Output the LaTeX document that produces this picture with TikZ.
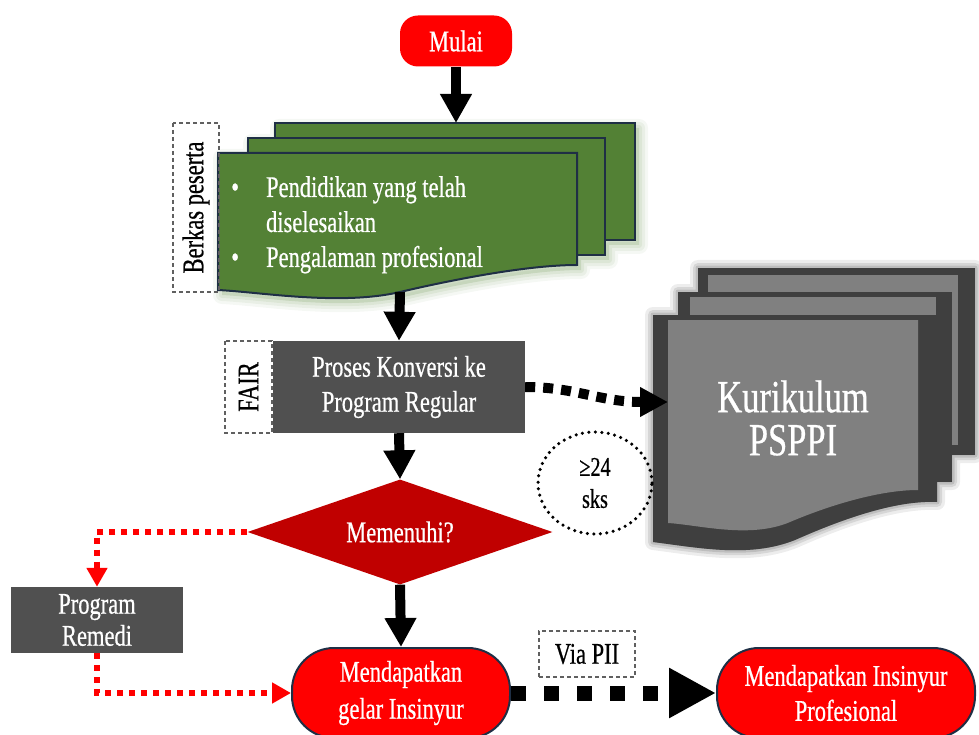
\documentclass[tikz,border=0pt]{standalone}
\usepackage{fontspec}
\setmainfont{Liberation Serif}[FakeStretch=0.75,FakeBold=0.6]
\usetikzlibrary{arrows.meta,shapes.geometric}

\definecolor{termred}{HTML}{FF0000}
\definecolor{decred}{HTML}{C00000}
\definecolor{procgray}{HTML}{505050}
\definecolor{docgreen}{HTML}{538135}
\definecolor{navyline}{HTML}{1F2F45}
\definecolor{sheetgray}{HTML}{808080}
\definecolor{sheetdark}{HTML}{3F3F3F}
\definecolor{tagline}{HTML}{606060}

\begin{document}
\begin{tikzpicture}[x=1pt,y=-1pt,
  lbl/.style={font=\fontsize{30}{35}\selectfont, text=white, align=center, inner sep=0pt},
  terminal/.style={lbl, fill=termred, draw=navyline, line width=2pt},
  process/.style={lbl, fill=procgray},
  decision/.style={lbl, diamond, aspect=3, fill=decred},
  tagbox/.style={font=\fontsize{30}{35}\selectfont, text=black, inner sep=0pt,
    draw=tagline, line width=1.3pt, dash pattern=on 4pt off 3pt},
  greensheet/.style={fill=docgreen, draw=navyline, line width=2pt, line join=miter},
  sheetout/.style={fill=sheetdark},
  sheetin/.style={fill=sheetgray},
  fatarrow/.style={draw=black, line width=10pt, -{Triangle[width=30pt,length=29pt]}},
  squarearrow/.style={draw=black, line width=10pt, dash pattern=on 10pt off 8pt,
    -{Triangle[width=28pt,length=28pt]}},
  bigsquarearrow/.style={draw=black, line width=15pt, dash pattern=on 15pt off 18pt,
    -{Triangle[width=47pt,length=47pt]}},
  redarrow/.style={draw=termred, line width=6pt, dash pattern=on 6pt off 6pt,
    -{Triangle[width=20pt,length=19pt]}},
  greenglow/.style={draw=docgreen!55!white, fill=docgreen!55!white, line join=round},
  greyglow/.style={draw=black!70, fill=black!70, line join=round},
]
\useasboundingbox (0,0) rectangle (979,735);

% start terminal
\node[terminal, draw=none, rounded corners=18pt, minimum width=112pt, minimum height=51pt]
  (start) at (456,41) {Mulai};

% soft glow behind the applicant documents
\foreach \w/\o in {18/0.10,12/0.14,6/0.18}{
  \path[greenglow, line width=\w pt, opacity=\o, shift={(4,5)}]
    (275,123) -- (635,123) -- (635,240) -- (605,240) -- (605,255) -- (577,255)
    -- (577,265) .. controls (530,265) and (460,278) .. (400,292)
    .. controls (340,306) and (260,292) .. (218,290) -- (218,153) -- (248,153)
    -- (248,138) -- (275,138) -- cycle;
}

% stack of applicant documents
\path[greensheet] (275,123) rectangle (635,240);
\path[greensheet] (248,138) rectangle (605,255);
\path[greensheet] (218,153) -- (577,153) -- (577,265)
  .. controls (530,265) and (460,278) .. (400,292)
  .. controls (340,306) and (260,292) .. (218,290) -- cycle;
\coordinate (docstop) at (456,123);
\coordinate (docsbot) at (400,292);
\node[anchor=base west, text=white, inner sep=0pt, font=\fontsize{30}{35}\selectfont]
  (docs) at (231,197)
  {\begin{tabular}[t]{@{}l@{\hspace{27pt}}l@{}}
    • & Pendidikan yang telah\\
      & diselesaikan\\
    • & Pengalaman profesional
   \end{tabular}};
\node[tagbox, rotate=90, minimum width=169pt, minimum height=46pt]
  (berkas) at (196,207.5) {Berkas peserta};

% conversion step
\node[process, minimum width=252pt, minimum height=92pt]
  (conv) at (399,387) {Proses Konversi ke\\Program Regular};
\node[tagbox, rotate=90, minimum width=92pt, minimum height=47pt]
  (fair) at (248.5,387) {FAIR};

% decision
\node[decision, minimum width=305pt, minimum height=105pt]
  (dec) at (400,532) {Memenuhi?};

% remedial program
\node[process, font=\fontsize{30}{32}\selectfont, minimum width=172pt, minimum height=66pt]
  (rem) at (97,620) {Program\\Remedi};

% outcomes
\node[terminal, rounded corners=42pt, minimum width=218pt, minimum height=90pt,
  font=\fontsize{30}{37}\selectfont]
  (gelar) at (401,693) {Mendapatkan\\gelar Insinyur};
\node[terminal, rounded corners=42pt, minimum width=258pt, minimum height=90pt]
  (prof) at (846,693) {Mendapatkan Insinyur\\Profesional};
\node[tagbox, minimum width=96pt, minimum height=46pt] (via) at (587,654) {Via PII};

% soft shadow behind the curriculum stack
\foreach \w/\o in {16/0.10,10/0.14,5/0.18}{
  \path[greyglow, line width=\w pt, opacity=\o]
    (698,268) -- (975,268) -- (975,455) -- (952,455) -- (952,482) -- (937,482)
    -- (937,502) .. controls (895,500) and (840,520) .. (795,540)
    .. controls (750,558) and (700,548) .. (653,542) -- (653,315) -- (678,315)
    -- (678,292) -- (698,292) -- cycle;
}

% curriculum stack
\path[sheetout] (698,268) rectangle (975,455);
\path[sheetin] (708,275) rectangle (958,445);
\path[sheetout] (678,292) rectangle (952,482);
\path[sheetin] (690,297) rectangle (936,468);
\path[sheetout] (653,315) -- (937,315) -- (937,502)
  .. controls (895,500) and (840,520) .. (795,540)
  .. controls (750,558) and (700,548) .. (653,542) -- cycle;
\path[sheetin] (668,320) -- (918,320) -- (918,490)
  .. controls (880,490) and (830,505) .. (790,522)
  .. controls (750,539) and (700,525) .. (668,523) -- cycle;
\node[lbl, font=\fontsize{46}{43}\selectfont] (kur) at (793,418) {Kurikulum\\PSPPI};
\coordinate (kurin) at (668,402);

% credit note
\node[ellipse, draw=black, line width=3.5pt, dash pattern=on 0pt off 6.5pt, line cap=round,
  minimum width=114pt, minimum height=102pt, inner sep=0pt, align=center,
  font=\fontsize{27}{32}\selectfont] (sks) at (595,483) {≥24\\sks};

% connectors
\draw[fatarrow] (start.south) -- (docstop);
\draw[fatarrow] (docsbot) -- (conv.north);
\draw[fatarrow] (conv.south) -- (dec.north);
\draw[fatarrow] (dec.south) -- (gelar.north);
\draw[squarearrow] (conv.east) .. controls (575,387) and (600,402) .. (kurin);
\draw[redarrow] (dec.west) -| (rem.north);
\draw[redarrow] (rem.south) |- (gelar.west);
\draw[bigsquarearrow] (gelar.east) -- (prof.west);
\end{tikzpicture}
\end{document}
